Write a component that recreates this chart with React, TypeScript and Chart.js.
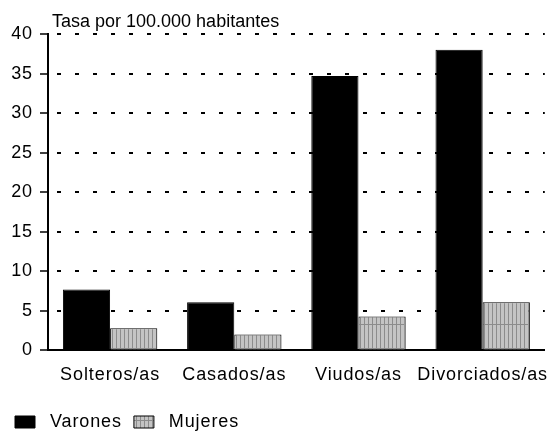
import React, { useEffect, useRef } from "react";
import { Chart, registerables } from "chart.js";

Chart.register(...registerables);

const categories = ["Solteros/as", "Casados/as", "Viudos/as", "Divorciados/as"];
const varones = [7.7, 6.1, 34.7, 38.0];
const mujeres = [2.8, 2.0, 4.3, 6.1];
const seriesNames = ["Varones", "Mujeres"];
const yTicks = [0, 5, 10, 15, 20, 25, 30, 35, 40];
const axisTitle = "Tasa por 100.000 habitantes";

const FONT = "'Liberation Sans', Arial, Helvetica, sans-serif";

function makePattern(): CanvasPattern | string {
  const c = document.createElement("canvas");
  c.width = 4;
  c.height = 24;
  const g = c.getContext("2d");
  if (!g) return "#bbbbbb";
  g.fillStyle = "#c4c4c4";
  g.fillRect(0, 0, 4, 24);
  g.fillStyle = "#8c8c8c";
  g.fillRect(0, 0, 1, 24);
  g.fillRect(0, 12, 4, 1);
  const p = g.createPattern(c, "repeat");
  return p || "#bbbbbb";
}

const spacingPlugin = {
  id: "letterSpacing",
  beforeUpdate(chart: any) {
    chart.ctx.letterSpacing = "0.9px";
  },
  beforeLayout(chart: any) {
    chart.ctx.letterSpacing = "0.9px";
  },
  afterLayout(chart: any) {
    if (chart.legend) {
      chart.legend.top += 9;
      chart.legend.bottom += 9;
    }
  },
  beforeDraw(chart: any) {
    chart.ctx.letterSpacing = "0.9px";
  },
  afterDraw(chart: any) {
    const ctx = chart.ctx;
    ctx.save();
    ctx.letterSpacing = "0px";
    ctx.font = `18px ${FONT}`;
    ctx.fillStyle = "#000";
    ctx.textAlign = "left";
    ctx.textBaseline = "alphabetic";
    ctx.fillText(axisTitle, 52, 27);
    ctx.restore();
  },
};

export default function App() {
  const ref = useRef<HTMLCanvasElement | null>(null);

  useEffect(() => {
    document.body.style.margin = "0";
    const canvas = ref.current;
    if (!canvas) return;
    const pattern = makePattern();
    const chart = new Chart(canvas, {
      type: "bar",
      data: {
        labels: categories,
        datasets: [
          {
            label: " " + seriesNames[0],
            data: varones,
            backgroundColor: "#000000",
            borderColor: "#000000",
            borderWidth: 1,
            categoryPercentage: 0.76,
            barPercentage: 1.0,
          },
          {
            label: " " + seriesNames[1],
            data: mujeres,
            backgroundColor: pattern as any,
            borderColor: "#000000",
            borderWidth: 1,
            categoryPercentage: 0.76,
            barPercentage: 1.0,
          },
        ],
      },
      options: {
        responsive: false,
        animation: false,
        devicePixelRatio: 1,
        layout: { padding: { left: 3, right: 0, top: 34, bottom: 1 } },
        font: { family: FONT, size: 18 },
        plugins: {
          legend: {
            position: "bottom",
            align: "start",
            labels: {
              boxWidth: 20,
              boxHeight: 12,
              padding: 12,
              color: "#000",
              font: { family: FONT, size: 18 },
            },
          },
          title: { display: false },
          tooltip: { enabled: false },
        },
        scales: {
          x: {
            grid: { display: false },
            border: { display: true, color: "#000", width: 2 },
            ticks: {
              color: "#000",
              padding: 6,
              font: { family: FONT, size: 18 },
              maxRotation: 0,
              autoSkip: false,
            },
          },
          y: {
            min: 0,
            max: 40,
            afterBuildTicks(scale: any) {
              scale.ticks = yTicks.map((v) => ({ value: v }));
            },
            afterFit(scale: any) {
              scale.width = 45;
            },
            grid: {
              color: "#000",
              lineWidth: 2,
              tickLength: 8,
              tickWidth: 1.5,
              tickColor: "#000",
              tickBorderDash: [],
            } as any,
            border: { display: true, color: "#000", width: 2, dash: [4, 14], dashOffset: -8 },
            ticks: {
              color: "#000",
              padding: 7,
              font: { family: FONT, size: 18 },
            },
          },
        },
      },
      plugins: [spacingPlugin],
    });
    return () => chart.destroy();
  }, []);

  return <canvas ref={ref} width={554} height={433} style={{ display: "block" }} />;
}
